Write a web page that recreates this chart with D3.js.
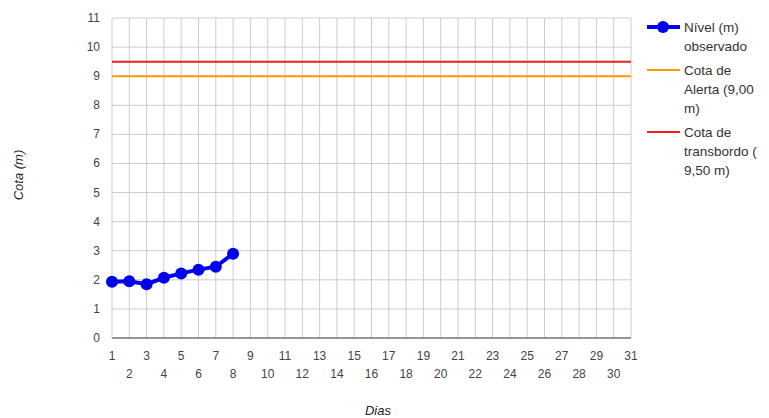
<!DOCTYPE html>
<html>
<head>
<meta charset="utf-8">
<script src="https://cdn.jsdelivr.net/npm/d3@7"></script>
<style>
  body { margin: 0; background: #fff; }
  svg { display: block; font-family: "Liberation Sans", Arial, sans-serif; }
</style>
</head>
<body>
<svg id="chart" width="769" height="418"></svg>
<script>
const days = d3.range(1, 32);
const observedDays = [1, 2, 3, 4, 5, 6, 7, 8];
const observedLevel = [1.93, 1.95, 1.85, 2.07, 2.22, 2.35, 2.45, 2.9];
const alertLevel = 9.0;
const overflowLevel = 9.5;
const yTicks = d3.range(0, 12);
const legendLabels = [
    ['Nível (m)', 'observado'],
    ['Cota de', 'Alerta (9,00', 'm)'],
    ['Cota de', 'transbordo (', '9,50 m)']
];
const colors = ['#0000ee', '#ff9900', '#ee2020'];

(function() {

    const svg = d3.select('#chart');
    const plotLeft = 112, plotRight = 631, plotTop = 18, plotBottom = 338;

    const x = d3.scaleLinear().domain([1, 31]).range([plotLeft, plotRight]);
    const y = d3.scaleLinear().domain([0, 11]).range([plotBottom, plotTop]);

    // grid
    svg.append('g')
        .selectAll('line')
        .data(days)
        .enter()
        .append('line')
        .attr('x1', d => x(d)).attr('x2', d => x(d))
        .attr('y1', plotTop).attr('y2', plotBottom)
        .attr('stroke', '#cccccc').attr('stroke-width', 1);

    svg.append('g')
        .selectAll('line')
        .data(yTicks.slice(1))
        .enter()
        .append('line')
        .attr('x1', plotLeft).attr('x2', plotRight)
        .attr('y1', d => y(d)).attr('y2', d => y(d))
        .attr('stroke', '#cccccc').attr('stroke-width', 1);

    // baseline
    svg.append('line')
        .attr('x1', plotLeft).attr('x2', plotRight)
        .attr('y1', y(0)).attr('y2', y(0))
        .attr('stroke', '#333').attr('stroke-width', 1.2);

    // y labels
    svg.append('g')
        .selectAll('text')
        .data(yTicks)
        .enter()
        .append('text')
        .attr('x', 100)
        .attr('y', d => y(d) + 4)
        .attr('text-anchor', 'end')
        .attr('font-size', 12)
        .attr('fill', '#444')
        .text(d => d);

    // x labels, alternating rows
    svg.append('g')
        .selectAll('text')
        .data(days)
        .enter()
        .append('text')
        .attr('x', d => x(d))
        .attr('y', d => d % 2 === 1 ? 360 : 378)
        .attr('text-anchor', 'middle')
        .attr('font-size', 12)
        .attr('fill', '#444')
        .text(d => d);

    // axis titles
    svg.append('text')
        .attr('transform', 'translate(23,175) rotate(-90)')
        .attr('text-anchor', 'middle')
        .attr('font-size', 13)
        .attr('font-style', 'italic')
        .attr('fill', '#222')
        .text('Cota (m)');

    svg.append('text')
        .attr('x', 378).attr('y', 415)
        .attr('text-anchor', 'middle')
        .attr('font-size', 13)
        .attr('font-style', 'italic')
        .attr('fill', '#222')
        .text('Dias');

    // reference lines
    [alertLevel, overflowLevel].forEach((v, i) => {
        svg.append('line')
            .attr('x1', plotLeft).attr('x2', plotRight)
            .attr('y1', y(v)).attr('y2', y(v))
            .attr('stroke', colors[i + 1]).attr('stroke-width', 2);
    });

    // observed series
    const pts = observedDays.map((d, i) => [d, observedLevel[i]]);
    svg.append('path')
        .datum(pts)
        .attr('fill', 'none')
        .attr('stroke', colors[0])
        .attr('stroke-width', 4)
        .attr('d', d3.line().x(d => x(d[0])).y(d => y(d[1])));

    svg.append('g')
        .selectAll('circle')
        .data(pts)
        .enter()
        .append('circle')
        .attr('cx', d => x(d[0]))
        .attr('cy', d => y(d[1]))
        .attr('r', 6)
        .attr('fill', colors[0]);

    // legend
    const legendY = [27, 70, 132];
    legendLabels.forEach((lines, i) => {
        const g = svg.append('g').attr('transform', `translate(0,${legendY[i]})`);
        g.append('line')
            .attr('x1', 647).attr('x2', 680)
            .attr('y1', 0).attr('y2', 0)
            .attr('stroke', colors[i])
            .attr('stroke-width', i === 0 ? 4 : 2);
        if (i === 0) {
            g.append('circle').attr('cx', 663).attr('cy', 0).attr('r', 6).attr('fill', colors[0]);
        }
        g.append('text')
            .attr('font-size', 13.5)
            .attr('fill', '#333')
            .selectAll('tspan')
            .data(lines)
            .enter()
            .append('tspan')
            .attr('x', 684)
            .attr('y', (d, j) => 5 + j * 19)
            .text(d => d);
    });

})();
</script>
</body>
</html>
